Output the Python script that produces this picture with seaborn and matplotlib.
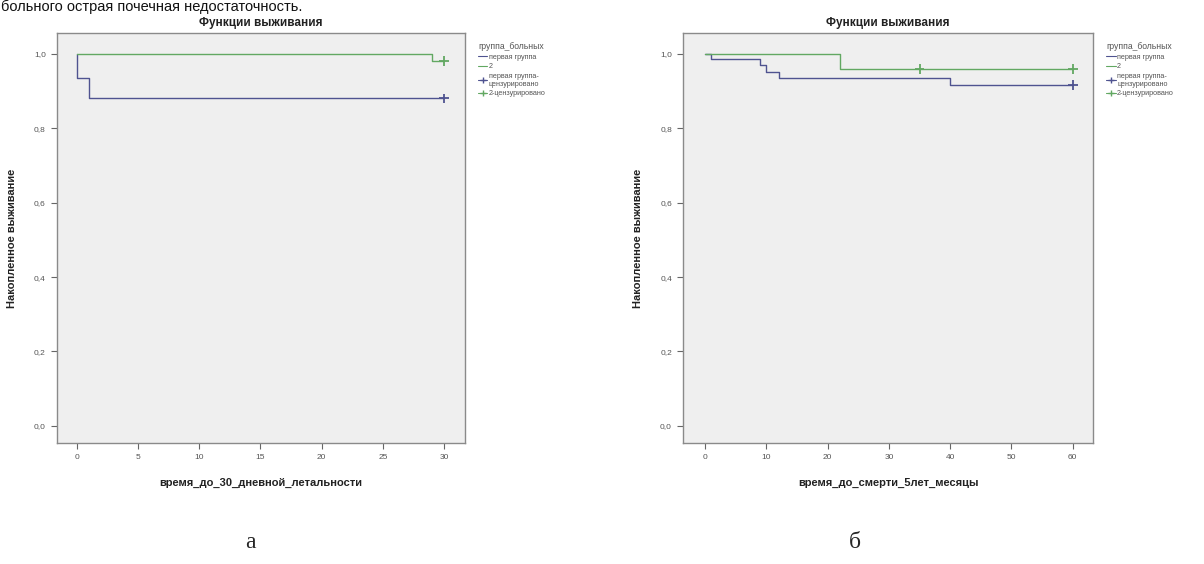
import pandas as pd
import matplotlib
matplotlib.use("Agg")
import matplotlib.pyplot as plt
from matplotlib.lines import Line2D
from matplotlib.ticker import FuncFormatter, MultipleLocator
import seaborn as sns

# данные (ступенчатые кривые Каплана-Мейера)
# панель а: время до 30-дневной летальности
a_g1_time = [0, 0, 1, 30]
a_g1_surv = [1.0, 0.935, 0.88, 0.88]
a_g2_time = [0, 29, 30]
a_g2_surv = [1.0, 0.98, 0.98]
a_g1_cens_time = [30]
a_g1_cens_surv = [0.88]
a_g2_cens_time = [30]
a_g2_cens_surv = [0.98]

# панель б: время до смерти, 5 лет, месяцы
b_g1_time = [0, 1, 9, 10, 12, 40, 60]
b_g1_surv = [1.0, 0.985, 0.97, 0.952, 0.935, 0.917, 0.917]
b_g2_time = [0, 22, 60]
b_g2_surv = [1.0, 0.96, 0.96]
b_g1_cens_time = [60]
b_g1_cens_surv = [0.917]
b_g2_cens_time = [35, 60]
b_g2_cens_surv = [0.96, 0.96]

groups = ["первая группа", "2"]
legend_labels = ["первая группа", "2", "первая группа-\nцензурировано", "2-цензурировано"]
colors = {"первая группа": "#4f5390", "2": "#62a862"}

sns.set_style("white")
plt.rcParams["font.family"] = ["Liberation Sans", "DejaVu Sans"]

fig = plt.figure(figsize=(12.04, 5.64), dpi=100)
ax1 = fig.add_axes([0.0473, 0.2145, 0.3388, 0.727])
ax2 = fig.add_axes([0.5673, 0.2145, 0.3405, 0.727])


def make_df(t1, s1, t2, s2):
    return pd.DataFrame({
        "t": t1 + t2,
        "s": s1 + s2,
        "g": [groups[0]] * len(t1) + [groups[1]] * len(t2),
    })


def draw(ax, curves, cens, xlim, xstep, xlabel):
    sns.lineplot(data=curves, x="t", y="s", hue="g", palette=colors,
                 drawstyle="steps-post", estimator=None, sort=False,
                 linewidth=1.0, legend=False, ax=ax)
    sns.scatterplot(data=cens, x="t", y="s", hue="g", palette=colors,
                    marker="+", s=50, linewidth=1.3, legend=False, ax=ax)
    ax.set_facecolor("#efefef")
    ax.set_xlim(*xlim)
    ax.set_ylim(-0.046, 1.056)
    ax.xaxis.set_major_locator(MultipleLocator(xstep))
    ax.yaxis.set_major_locator(MultipleLocator(0.2))
    ax.yaxis.set_major_formatter(FuncFormatter(lambda v, p: f"{v:.1f}".replace(".", ",")))
    ax.tick_params(axis="both", direction="out", length=4, width=0.8,
                   color="#666666", labelsize=6, labelcolor="#555555", pad=4)
    ax.tick_params(left=True, bottom=True)
    for sp in ax.spines.values():
        sp.set_color("#8a8a8a")
        sp.set_linewidth(1.0)
    ax.set_xlabel(xlabel, fontsize=8, fontweight="bold", labelpad=12, color="#222222")
    ax.set_ylabel("Накопленное выживание", fontsize=8, fontweight="bold",
                  labelpad=12, color="#222222")
    ax.set_title("Функции выживания", fontsize=8.5, fontweight="bold", pad=5,
                 color="#222222")
    handles = [
        Line2D([], [], color=colors[groups[0]], lw=0.8, drawstyle="steps-post"),
        Line2D([], [], color=colors[groups[1]], lw=0.8),
        Line2D([], [], color=colors[groups[0]], lw=0.8, marker="+", markersize=5),
        Line2D([], [], color=colors[groups[1]], lw=0.8, marker="+", markersize=5),
    ]
    leg = ax.legend(handles, legend_labels, title="группа_больных",
                    loc="upper left", bbox_to_anchor=(1.02, 0.99), frameon=False,
                    fontsize=5.2, title_fontsize=6.2, handlelength=1.3,
                    handletextpad=0.2, labelspacing=0.35, borderaxespad=0.3,
                    alignment="left")
    for t in leg.get_texts():
        t.set_color("#555555")
    leg.get_title().set_color("#555555")


draw(ax1,
     make_df(a_g1_time, a_g1_surv, a_g2_time, a_g2_surv),
     make_df(a_g1_cens_time, a_g1_cens_surv, a_g2_cens_time, a_g2_cens_surv),
     (-1.6, 31.7), 5, "время_до_30_дневной_летальности")
draw(ax2,
     make_df(b_g1_time, b_g1_surv, b_g2_time, b_g2_surv),
     make_df(b_g1_cens_time, b_g1_cens_surv, b_g2_cens_time, b_g2_cens_surv),
     (-3.6, 63.3), 10, "время_до_смерти_5лет_месяцы")

# строка текста сверху и подписи панелей
fig.text(0.001, 1 - 11 / 564, "больного острая почечная недостаточность.",
         fontsize=10.5, va="baseline", ha="left", color="#111111")
fig.text(250 / 1204, 1 - 548 / 564, "а", fontsize=17, family="Liberation Serif",
         ha="center", va="baseline")
fig.text(855 / 1204, 1 - 548 / 564, "б", fontsize=17, family="Liberation Serif",
         ha="center", va="baseline")

fig.savefig("out.png", dpi=100)
